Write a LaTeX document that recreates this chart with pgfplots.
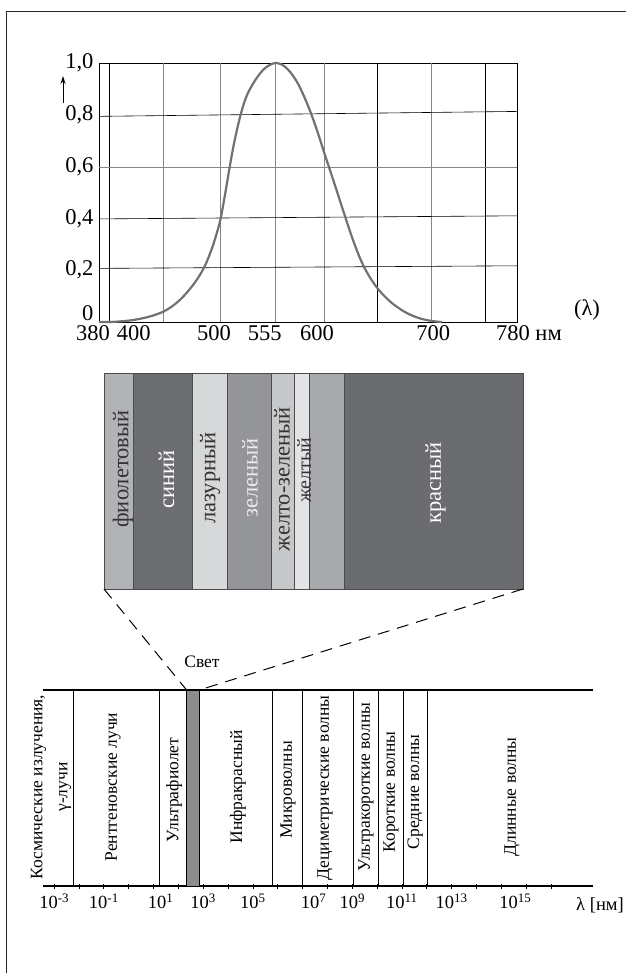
\documentclass[border=0pt]{standalone}
\usepackage{fontspec}
\setmainfont{Liberation Serif}
\usepackage{pgfplots}
\pgfplotsset{compat=1.18}
\usetikzlibrary{arrows.meta}
\definecolor{curvegray}{HTML}{707174}
\definecolor{gridgray}{HTML}{85868A}
\definecolor{c1}{HTML}{B1B3B6}
\definecolor{c2}{HTML}{6D6E71}
\definecolor{c3}{HTML}{D7D8DA}
\definecolor{c4}{HTML}{939598}
\definecolor{c5}{HTML}{C7C8CA}
\definecolor{c6}{HTML}{E3E4E5}
\definecolor{c7}{HTML}{A7A9AC}
\definecolor{c8}{HTML}{6B6C70}
\definecolor{barfill}{HTML}{8A8C8E}
\begin{document}
\begin{tikzpicture}[x=1pt,y=1pt]
\path[use as bounding box] (0pt,0pt) rectangle (626pt,-973pt);
\draw[line width=1.4pt, black!85] (6.7pt,-973pt) -- (6.7pt,-11.7pt) -- (626pt,-11.7pt);

% ---------- luminosity curve ----------
\begin{axis}[at={(99pt,-322pt)}, anchor=south west, scale only axis,
  width=418pt, height=259pt,
  xmin=380, xmax=780, ymin=0, ymax=1,
  x coord trafo/.code={\pgfmathparse{max(#1,400)+0.5*(min(#1,400)-400)}},
  x coord inv trafo/.code={\pgfmathparse{max(#1,400)+2*(min(#1,400)-400)}},
  xtick={380,400,500,555,600,700,780},
  xticklabels={\makebox[0pt]{\kern-12pt 380},\makebox[0pt]{\kern48pt 400},\makebox[0pt]{\kern-6pt 500},\makebox[0pt]{\kern-22pt 555},\makebox[0pt]{\kern-14pt 600},\makebox[0pt]{\kern4pt 700},\makebox[0pt]{\kern-8pt 780\rlap{\ нм}}},
  ytick={0,0.2,0.4,0.6,0.8,1},
  yticklabels={\smash{\raisebox{2pt}{0}},{0,2},{0,4},{0,6},{0,8},{1,0}},
  yticklabel style={xshift=-2pt},
  major tick length=0pt,
  tick label style={font=\fontsize{22.5}{26}\selectfont},
  axis line style={black, line width=0.9pt},
  clip=false]
\addplot[black, line width=0.6pt] coordinates {(400,0) (400,1)};
\addplot[gridgray, line width=1.1pt] coordinates {(450,0) (450,1)};
\addplot[gridgray, line width=1.1pt] coordinates {(503.5,0) (503.5,1)};
\addplot[gridgray, line width=1.1pt] coordinates {(555,0) (555,1)};
\addplot[gridgray, line width=1.1pt] coordinates {(600,0) (600,1)};
\addplot[black, line width=0.6pt] coordinates {(650,0) (650,1)};
\addplot[gridgray, line width=1.1pt] coordinates {(700,0) (700,1)};
\addplot[black, line width=0.6pt] coordinates {(750,0) (750,1)};
\addplot[black, line width=0.6pt] coordinates {(380,0.794) (780,0.813)};
\addplot[gridgray, line width=1.1pt] coordinates {(380,0.597) (780,0.597)};
\addplot[black, line width=0.6pt] coordinates {(380,0.398) (780,0.410)};
\addplot[black, line width=0.6pt] coordinates {(380,0.207) (780,0.217)};
\addplot[curvegray, line width=2.2pt, smooth, tension=0.6] coordinates {
(380,0) (400,0) (412,0.003) (424,0.009) (438,0.022) (450,0.04) (460,0.066)
(469,0.10) (479,0.15) (488,0.21) (495,0.28) (500,0.345) (503.5,0.40)
(507.5,0.49) (512,0.60) (516,0.69) (521.5,0.79) (527,0.865) (533,0.915)
(540,0.958) (547,0.987) (556,1.0) (565,0.98) (575,0.925) (585,0.835)
(593,0.745) (600,0.655) (610,0.53) (619,0.415) (628,0.305) (637,0.215)
(648,0.14) (660,0.085) (671,0.05) (681,0.027) (691,0.012) (702,0.003) (710,0)};
\end{axis}
\draw[-{Stealth[length=8pt,width=5pt]}, line width=1pt] (63pt,-103pt) -- (63pt,-76pt);
\node[font=\fontsize{22.5}{26}\selectfont] at (587pt,-310pt) {(λ)};

% ---------- colour band ----------
\begin{axis}[at={(104pt,-589pt)}, anchor=south west, scale only axis,
  width=419pt, height=216pt,
  xmin=0, xmax=419, ymin=0, ymax=1, hide axis, clip=false]
\addplot[fill=c1, draw=black!70, line width=0.6pt] coordinates {(0,0) (29.3,0) (29.3,1) (0,1)} -- cycle;
\addplot[fill=c2, draw=black!70, line width=0.6pt] coordinates {(29.3,0) (88,0) (88,1) (29.3,1)} -- cycle;
\addplot[fill=c3, draw=black!70, line width=0.6pt] coordinates {(88,0) (123,0) (123,1) (88,1)} -- cycle;
\addplot[fill=c4, draw=black!70, line width=0.6pt] coordinates {(123,0) (167,0) (167,1) (123,1)} -- cycle;
\addplot[fill=c5, draw=black!70, line width=0.6pt] coordinates {(167,0) (190.3,0) (190.3,1) (167,1)} -- cycle;
\addplot[fill=c6, draw=black!70, line width=0.6pt] coordinates {(190.3,0) (205,0) (205,1) (190.3,1)} -- cycle;
\addplot[fill=c7, draw=black!70, line width=0.6pt] coordinates {(205,0) (240.3,0) (240.3,1) (205,1)} -- cycle;
\addplot[fill=c8, draw=black!70, line width=0.6pt] coordinates {(240.3,0) (419,0) (419,1) (240.3,1)} -- cycle;
\node[rotate=90, text=black!80, font=\fontsize{22.5}{26}\selectfont] at (axis cs:19,0.556) {фиолетовый};
\node[rotate=90, text=white, font=\fontsize{22.5}{26}\selectfont] at (axis cs:62.5,0.509) {синий};
\node[rotate=90, text=black!80, font=\fontsize{22.5}{26}\selectfont] at (axis cs:106,0.514) {лазурный};
\node[rotate=90, text=white!92!black, font=\fontsize{22.5}{26}\selectfont] at (axis cs:146,0.514) {зеленый};
\node[rotate=90, text=black!80, font=\fontsize{22.5}{26}\selectfont] at (axis cs:178,0.509) {желто-зеленый};
\node[rotate=90, text=black!80, font=\fontsize{20}{23}\selectfont] at (axis cs:200,0.551) {желтый};
\node[rotate=90, text=white, font=\fontsize{22.5}{26}\selectfont] at (axis cs:331.5,0.49) {красный};
\coordinate (bl) at (axis cs:0,0);
\coordinate (br) at (axis cs:419,0);
\end{axis}

% ---------- electromagnetic spectrum ----------
\begin{axis}[at={(43pt,-886pt)}, anchor=south west, scale only axis,
  width=550pt, height=196pt,
  xmin=-3.45, xmax=18.69, ymin=0, ymax=1,
  axis x line=box, axis y line=none, xtick pos=left,
  axis line style={black, line width=1.2pt},
  xtick={-3,-1,1,3,5,7,9,11,13,15},
  xticklabels={10\textsuperscript{-3},10\textsuperscript{-1},\makebox[0pt]{\kern14pt 10\textsuperscript{1}},10\textsuperscript{3},10\textsuperscript{5},\makebox[0pt]{\kern22pt 10\textsuperscript{7}},10\textsuperscript{9},10\textsuperscript{11},10\textsuperscript{13},\makebox[0pt]{\kern28pt 10\textsuperscript{15}}},
  minor xtick={-2,0,2,4,6,8,10,12,14,16,17},
  tick align=center, major tick length=5pt, minor tick length=5pt,
  tick style={black, line width=0.8pt},
  tick label style={font=\fontsize{18.5}{21}\selectfont},
  xticklabel style={yshift=-2pt},
  clip=false]
\addplot[black, line width=1.1pt] coordinates {(-2.23,0) (-2.23,1)};
\addplot[black, line width=1.1pt] coordinates {(1.23,0) (1.23,1)};
\addplot[black, line width=1.1pt] coordinates {(5.78,0) (5.78,1)};
\addplot[black, line width=1.1pt] coordinates {(7.0,0) (7.0,1)};
\addplot[black, line width=1.1pt] coordinates {(9.04,0) (9.04,1)};
\addplot[black, line width=1.1pt] coordinates {(10.05,0) (10.05,1)};
\addplot[black, line width=1.1pt] coordinates {(11.05,0) (11.05,1)};
\addplot[black, line width=1.1pt] coordinates {(12.02,0) (12.02,1)};
\addplot[fill=barfill, draw=black, line width=0.9pt] coordinates {(2.33,0) (2.84,0) (2.84,1) (2.33,1)} -- cycle;
\coordinate (sl) at (axis cs:2.33,1);
\coordinate (sr) at (axis cs:2.84,1);
\node[rotate=90, align=center, font=\fontsize{17.5}{25}\selectfont] at (axis cs:-3.13,0.505) {Космические излучения,\\γ-лучи};
\node[rotate=90, font=\fontsize{17.5}{21}\selectfont] at (axis cs:-0.63,0.505) {Рентгеновские лучи};
\node[rotate=90, font=\fontsize{17.5}{21}\selectfont] at (axis cs:1.83,0.49) {Ультрафиолет};
\node[rotate=90, font=\fontsize{17.5}{21}\selectfont] at (axis cs:4.40,0.505) {Инфракрасный};
\node[rotate=90, font=\fontsize{17.5}{21}\selectfont] at (axis cs:6.41,0.49) {Микроволны};
\node[rotate=90, font=\fontsize{17.5}{21}\selectfont] at (axis cs:7.90,0.5) {Дециметрические волны};
\node[rotate=90, font=\fontsize{17.5}{21}\selectfont] at (axis cs:9.55,0.505) {Ультракороткие волны};
\node[rotate=90, font=\fontsize{17.5}{21}\selectfont] at (axis cs:10.56,0.48) {Короткие волны};
\node[rotate=90, font=\fontsize{17.5}{21}\selectfont] at (axis cs:11.53,0.48) {Средние волны};
\node[rotate=90, font=\fontsize{17.5}{21}\selectfont] at (axis cs:15.43,0.454) {Длинные волны};
\end{axis}
\draw[line width=1pt, dash pattern=on 12pt off 8pt] (bl) -- (sl);
\draw[line width=1pt, dash pattern=on 12pt off 8pt] (br) -- (sr);
\node[font=\fontsize{17.5}{21}\selectfont] at (202pt,-662pt) {Свет};
\node[font=\fontsize{18.5}{21}\selectfont] at (600pt,-905pt) {λ [нм]};
\end{tikzpicture}
\end{document}
